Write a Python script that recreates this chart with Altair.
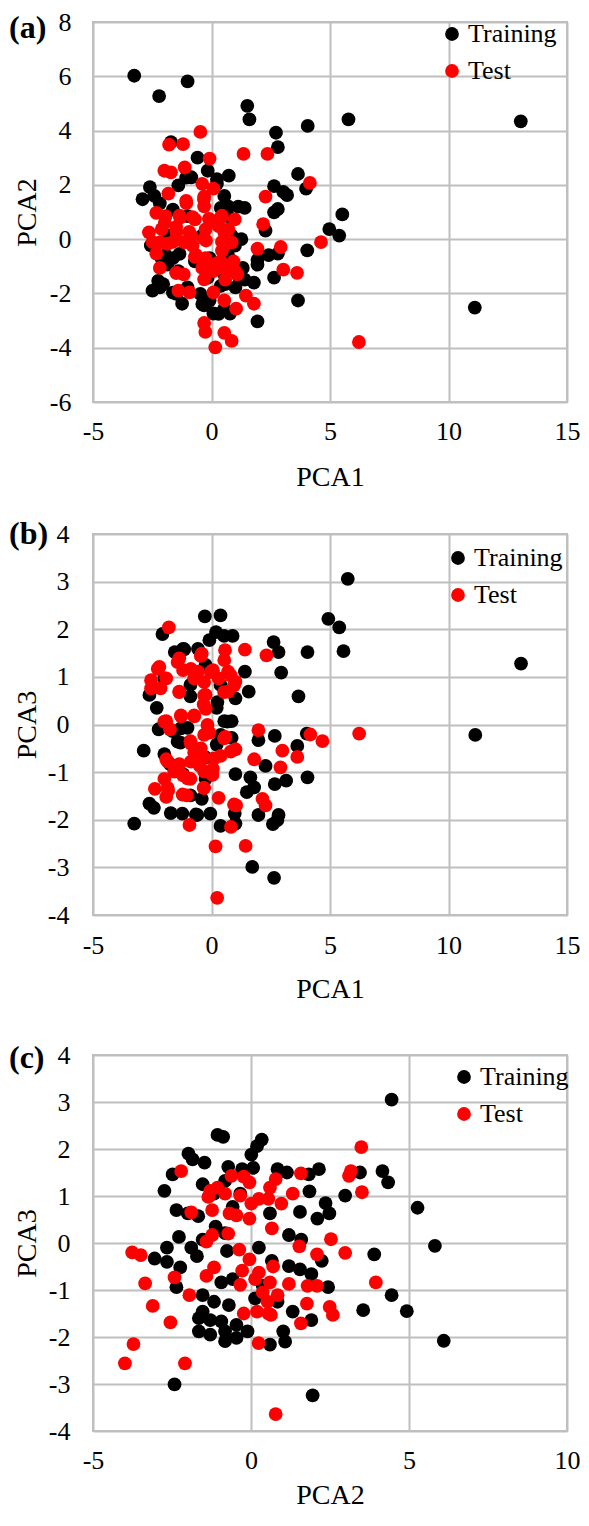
import altair as alt
import pandas as pd

FONT = "Liberation Serif"
SERIES = ["Training", "Test"]
COLORS = ["#000000", "#ff0000"]

# ---------------- Panel (a): PCA1 vs PCA2 ----------------
a_train_x = [-3.26, -1.01, -2.21, 1.51, 1.60, 5.78, 4.06, 13.05, 2.72, 2.80,
             -1.71, -0.59, -0.16, 0.73, 3.65, -0.85, -2.60, -2.91, -2.41, -1.40,
             0.23, 2.64, 3.03, 3.19, 3.99, 0.54, 1.40, 2.80, 2.64, 0.70,
             5.52, 4.97, 5.39, 2.28, 4.04, 2.80, 2.41, 1.94, 1.94, 2.64,
             1.79, 3.65, 11.11, 1.94, -1.24, -0.31, 0.08, 0.78, 0.54, -2.49,
             -2.18, -2.56, -1.63, -1.86, -2.25, -1.40, -1.01, -0.70, 1.32, 1.17,
             1.01, 0.39, -0.16, 0.85, 1.01, 0.23, -0.39, -1.01, -1.63, -1.79,
             -1.94, -0.08, 0.70, 0.54, -0.47, -0.08, -1.48, 0.39, 0.70,
             0.99, -2.04, -0.39, 0.30, -2.11, 0.58,
             0.23, 1.13, 1.26, 0.99, -1.07, -2.18, -1.63, -1.35, 1.40]
a_train_y = [6.02, 5.81, 5.27, 4.91, 4.41, 4.41, 4.17, 4.34, 3.92, 3.39,
             3.57, 3.00, 2.52, 2.34, 2.40, 2.28, 1.92, 1.47, 1.59, 1.98,
             2.04, 1.95, 1.74, 1.62, 1.86, 1.59, 1.15, 1.11, 0.99, 1.21,
             0.91, 0.37, 0.13, 0.31, -0.41, -0.53, -0.59, -0.76, -0.94, -1.42,
             -1.60, -2.26, -2.52, -3.03, -2.38, -2.44, -2.74, -2.74, -2.56, -1.90,
             -1.78, -0.23, -0.70, -0.94, -1.54, -1.18, -1.78, -0.82, -1.06, -1.42,
             -1.78, -1.72, -1.42, 0.13, -0.11, 0.61, 0.13, 0.85, 1.09, 0.13,
             -0.59, -0.70, -0.59, -1.30, -2.02, -2.26, -2.02, 1.15, 0.85,
             -0.04, -1.66, -2.39, -2.75, -0.70, -1.66,
             2.21, 1.20, 0.00, -0.24, 2.27, 1.32, -1.97, -0.54, -1.49]
a_test_x = [-0.47, -1.79, -1.20, 1.35, 2.36, -0.08, -1.99, -1.71, -1.13, 4.15,
            -0.39, 0.08, -1.82, -0.31, 2.28, -1.06, -0.31, -2.33, -1.94, -1.32,
            -0.70, -0.08, 0.39, 0.98, 2.18, -2.64, -2.10, -1.48, -0.85, -0.23,
            0.54, -2.49, -1.86, -1.17, 0.54, -2.33, 1.94, 2.92, 4.62, -0.70,
            -0.23, 0.39, 0.93, -2.18, -0.39, 0.08, 0.70, 1.09, -1.48, -1.17,
            3.03, 3.61, -0.31, -1.40, -0.93, 0.08, 0.54, 1.45, 1.79, 1.04,
            -0.31, -0.26, 0.54, 0.85, 0.16, 6.22,
            -1.35, -0.80, 0.44, -1.49, -0.94, 0.44, -1.63, -1.07, -0.66, -0.25,
            0.23, -1.49, 0.30, 0.99, -0.32, -1.07, -0.11, -0.32,
            -1.97, -0.25, 0.30, 0.71, -2.18, -0.80, 0.85, 0.58, 0.44]
a_test_y = [3.95, 3.48, 3.50, 3.14, 3.14, 2.97, 2.52, 2.46, 2.64, 2.07,
            2.04, 1.86, 1.68, 1.57, 1.57, 1.33, 1.21, 0.97, 0.85, 0.79,
            0.73, 0.73, 0.79, 0.73, 0.55, 0.25, 0.37, 0.25, 0.13, -0.05,
            0.25, -0.11, -0.17, -0.11, -0.23, -0.53, -0.35, -0.29, -0.11, -0.65,
            -0.82, -0.82, -0.82, -1.06, -1.06, -1.18, -1.12, -1.30, -1.24, -1.30,
            -1.12, -1.24, -1.48, -1.90, -1.96, -1.96, -2.26, -2.08, -2.38, -2.56,
            -3.09, -3.42, -3.45, -3.75, -3.99, -3.79,
            0.87, 0.81, 0.87, 0.45, 0.27, -0.10, -0.10, -0.10, -0.58, -0.70,
            -0.88, -1.24, -1.06, -1.18, 1.47, 1.41, 0.75, 0.02,
            0.60, 0.36, 0.48, 0.36, -0.12, -0.24, -0.12, -1.49, -0.42]

# ---------------- Panel (b): PCA1 vs PCA3 ----------------
b_train_x = [5.75, 4.93, 5.39, 5.57, 13.06, 11.13, -0.28, 0.38, -2.07, 0.19,
             0.89, -0.09, 2.62, 2.83, 4.05, -1.55, -1.20, -0.57, 2.94, 1.41,
             1.57, 3.67, -2.62, -2.31, 0.22, 0.54, 0.85, -0.89, -2.23, -1.01,
             -1.64, -2.86, -1.99, -1.31, 0.22, 0.85, 1.98, 2.67, 3.62, 4.02,
             2.28, 1.64, 1.80, 1.49, 2.67, 3.15, 4.05, -1.20, -0.25, 1.01,
             -2.62, -2.43, -1.72, -1.23, -0.60, -0.05, -0.41, -0.89, -3.26, 0.38,
             1.01, 0.98, 1.98, 2.83, 2.78, 2.59, 1.72, 2.64, -1.75, -0.25,
             -0.89, -1.99, -0.25, 0.38, 1.01,
             -1.15, 0.53, 0.25, 0.67, -1.29, -1.43, 0.39, -0.66]
b_train_y = [3.06, 2.22, 2.04, 1.54, 1.28, -0.22, 2.27, 2.29, 1.90, 1.94,
             1.86, 1.77, 1.73, 1.52, 1.52, 1.52, 1.59, 1.59, 1.09, 1.11,
             0.69, 0.59, 0.62, 0.35, 0.35, 0.07, 0.07, 0.59, -0.10, -0.07,
             -0.14, -0.55, -0.62, -0.38, -0.42, -0.28, -0.33, -0.24, -0.45, -0.19,
             -0.87, -1.11, -1.32, -1.42, -1.25, -1.18, -1.11, -1.04, -1.14, -1.04,
             -1.66, -1.75, -1.86, -1.87, -1.90, -1.87, -1.56, -1.49, -2.08, -2.13,
             -2.08, -1.87, -1.90, -1.90, -2.01, -2.09, -2.99, -3.22, -0.83, -0.69,
             0.83, 0.97, 1.25, 0.83, 0.55,
             1.58, 1.86, 0.47, 0.06, -0.08, -0.36, -0.22, -1.89]
b_test_x = [-1.80, 1.41, 2.32, -0.41, 0.57, 0.54, -1.36, -2.20, -1.20, -0.57,
            0.06, 0.70, -2.55, -1.91, -0.73, 0.30, 1.01, -2.55, -2.15, -1.36,
            0.70, -0.25, -0.33, -1.28, -0.73, -1.91, -1.75, -0.09, 1.98, 4.17,
            4.68, 6.23, 0.58, -0.89, 1.01, 2.99, -0.73, -0.33, 0.38, 1.80,
            3.62, -1.91, -1.36, -0.49, 0.06, 2.91, -1.20, -0.89, -1.99, -2.39,
            -1.83, -1.91, -1.04, -0.33, 0.30, 2.15, 2.28, 1.04, -0.93, 0.82,
            0.17, 1.44, 0.24,
            -2.27, -1.43, -0.87, -0.45, -0.03, 0.81, 0.95, 0.53, -0.31, -0.24,
            -0.73, -1.29, -1.99, -0.17, -0.31, 0.53, -0.87, -0.45, 0.11, 0.81,
            -0.87, -1.85, -1.57, -1.01, -0.31, 0.04, -1.85, -1.22, -0.31, 0.95,
            -0.31, -1.36]
b_test_y = [2.04, 1.57, 1.45, 1.49, 1.56, 1.35, 1.39, 1.21, 1.14, 1.11,
            1.14, 1.11, 0.93, 0.97, 0.97, 0.97, 0.90, 0.76, 0.76, 0.69,
            0.69, 0.62, 0.42, 0.17, 0.17, 0.07, -0.10, -0.17, -0.12, -0.21,
            -0.35, -0.19, -0.26, -0.35, -0.52, -0.55, -0.59, -0.69, -0.66, -0.73,
            -0.68, -0.73, -0.83, -0.87, -0.93, -0.90, -1.07, -1.14, -1.14, -1.35,
            -1.39, -1.52, -1.49, -1.33, -1.54, -1.56, -1.70, -1.70, -2.11, -2.15,
            -2.56, -2.55, -3.64,
            1.17, 1.31, 1.17, 1.44, 1.10, 1.03, 0.82, 0.68, 0.61, 0.33,
            0.19, 0.19, 0.06, -0.01, -0.22, -0.29, -0.40, -0.50, -0.71, -0.57,
            -0.78, -0.78, -0.99, -1.13, -0.99, -1.06, -1.33, -1.47, -1.33, -1.68,
            0.89, 0.68]

# ---------------- Panel (c): PCA2 vs PCA3 ----------------
c_train_x = [4.45, -1.06, -0.88, 0.34, 0.19, 0.01, -1.98, -1.85, -1.47, -2.48,
             -0.72, -0.28, 0.07, 0.84, 1.14, 1.83, 2.15, 3.45, 4.16, 4.34,
             -2.74, 1.85, 2.98, 5.27, -2.36, -2.00, -1.67, -0.58, 1.55, 2.36,
             2.48, 2.10, 0.60, -1.12, -0.82, -1.53, -2.28, 1.20, 1.59, 5.82,
             3.90, -1.89, -1.71, -2.66, -3.05, -2.66, -2.24, -0.76, 0.25, 0.66,
             1.20, 1.55, 1.91, 2.24, 2.44, -2.36, 4.45, 4.93, 3.55, 6.10,
             1.32, 1.91, -1.53, -1.17, -1.53, -1.65, -1.29, -0.70, -0.94, -0.46,
             -0.11, -1.65, -1.29, -0.82, -0.82, -0.46, 0.60, 1.02, 1.08, -2.42,
             1.95, -0.58, 0.37, 0.13, 0.84, -0.94, -1.17, -0.82, -1.53, -0.34]
c_train_y = [3.05, 2.30, 2.26, 2.20, 2.06, 1.88, 1.90, 1.78, 1.71, 1.46,
             1.62, 1.57, 1.60, 1.57, 1.50, 1.46, 1.57, 1.50, 1.53, 1.29,
             1.11, 1.10, 1.01, 0.75, 0.70, 0.63, 0.57, 0.77, 0.66, 0.85,
             0.63, 0.52, 0.63, 0.35, 0.21, 0.07, 0.13, 0.17, 0.07, -0.06,
             -0.24, -0.10, -0.28, -0.10, -0.33, -0.40, -0.52, -0.17, -0.10, -0.38,
             -0.49, -0.56, -0.66, -0.38, -0.94, -0.94, -1.11, -1.45, -1.43, -2.08,
             -1.46, -1.64, -1.11, -1.25, -1.46, -1.60, -1.64, -1.32, -1.67, -1.74,
             -1.88, -1.88, -1.95, -1.88, -2.09, -2.02, -2.16, -1.88, -2.10, -3.01,
             -3.24, -0.77, -0.91, -1.18, -1.25, -0.84, 1.05, 1.32, 1.25, 1.05]
c_test_x = [3.49, -2.21, 3.16, 3.10, 3.51, 1.58, -0.62, -0.23, 0.78, -0.05,
            0.60, -1.06, -1.29, -0.82, -1.35, -0.34, 1.32, 0.25, 0.01, 0.55,
            0.96, -1.89, -1.23, -0.68, -0.46, -0.05, 0.66, -1.23, -1.41, -0.72,
            2.53, -3.76, -3.49, -0.37, 1.53, 2.09, 2.98, -0.05, 0.70, -1.17,
            -1.41, -0.28, 0.25, -2.42, -3.35, 3.95, -0.34, 0.13, 0.60, 1.20,
            1.79, 2.09, -1.95, 0.37, 0.84, 0.52, 1.77, -3.11, 2.49, 2.59,
            -0.23, 0.19, 0.55, 0.63, -2.55, 1.58, 0.24, -3.72, -3.99, -2.09,
            0.78]
c_test_y = [2.04, 1.53, 1.53, 1.43, 1.08, 1.48, 1.43, 1.41, 1.36, 1.29,
            1.18, 1.18, 1.11, 1.05, 0.98, 1.01, 1.05, 0.94, 0.84, 0.94,
            0.84, 0.65, 0.70, 0.63, 0.59, 0.52, 0.31, 0.17, 0.03, 0.20,
            0.08, -0.20, -0.26, -0.14, -0.07, -0.24, -0.21, -0.35, -0.50, -0.52,
            -0.70, -0.59, -0.63, -0.73, -0.86, -0.84, -0.89, -0.77, -0.84, -0.87,
            -0.91, -0.91, -1.11, -1.05, -1.11, -1.25, -1.29, -1.34, -1.36, -1.53,
            -1.50, -1.46, -1.50, -1.53, -1.69, -1.71, -2.13, -2.15, -2.56, -2.56,
            -3.64]

X_TICKS_AB = [-5, 0, 5, 10, 15]
X_TICKS_C = [-5, 0, 5, 10]
Y_TICKS_A = [-6, -4, -2, 0, 2, 4, 6, 8]
Y_TICKS_BC = [-4, -3, -2, -1, 0, 1, 2, 3, 4]

PLOT_LEFT = 84  # y-axis extent to the left of every plot area


def make_df(trx, tr_y, tex, tey):
    return pd.DataFrame({
        "x": trx + tex,
        "y": tr_y + tey,
        "set": ["Training"] * len(trx) + ["Test"] * len(tex),
    })


def panel(df, tag, xdom, xvals, ydom, yvals, xtitle, ytitle, w, h,
          ylab_pad, ytitle_pad, xlab_pad, xtitle_pad, leg_x, leg_y, tag_y):
    pts = alt.Chart(df).mark_circle(size=190, opacity=1).encode(
        x=alt.X("x:Q",
                scale=alt.Scale(domain=xdom, nice=False, zero=False),
                axis=alt.Axis(values=xvals, title=xtitle, labelFlush=False,
                              labelPadding=xlab_pad, titlePadding=xtitle_pad,
                              labelExpr="'' + datum.value")),
        y=alt.Y("y:Q",
                scale=alt.Scale(domain=ydom, nice=False, zero=False),
                axis=alt.Axis(values=yvals, title=ytitle, labelFlush=False,
                              labelPadding=ylab_pad, titlePadding=ytitle_pad,
                              labelExpr="'' + datum.value")),
        color=alt.Color("set:N",
                        scale=alt.Scale(domain=SERIES, range=COLORS),
                        legend=alt.Legend(title=None, orient="none",
                                          legendX=leg_x, legendY=leg_y,
                                          symbolType="circle", symbolSize=190,
                                          symbolStrokeWidth=0, symbolOpacity=1,
                                          labelFont=FONT, labelFontSize=26,
                                          labelColor="black", labelOffset=3,
                                          rowPadding=11, padding=0)),
    )
    tag_df = pd.DataFrame({"t": [tag]})
    lab = alt.Chart(tag_df).mark_text(
        font=FONT, fontSize=32, fontWeight="bold", align="left",
        baseline="middle", color="black"
    ).encode(x=alt.value(-PLOT_LEFT), y=alt.value(tag_y), text="t:N")
    return alt.layer(pts, lab).properties(width=w, height=h)


pa = panel(make_df(a_train_x, a_train_y, a_test_x, a_test_y), "(a)",
           [-5, 15], X_TICKS_AB, [-6, 8], Y_TICKS_A, "PCA1", "PCA2",
           474, 380, 22, 8.3, 16, 19, 346, -1, 6)
pb = panel(make_df(b_train_x, b_train_y, b_test_x, b_test_y), "(b)",
           [-5, 15], X_TICKS_AB, [-4, 4], Y_TICKS_BC, "PCA1", "PCA3",
           474, 381, 24, 6.3, 17, 17, 352, 11, 0)
pc = panel(make_df(c_train_x, c_train_y, c_test_x, c_test_y), "(c)",
           [-5, 10], X_TICKS_C, [-4, 4], Y_TICKS_BC, "PCA2", "PCA3",
           474, 376, 23, 7.3, 16, 8, 358, 9, 2.7)

top = alt.vconcat(pa, pb, spacing=25).resolve_scale(
    x="independent", y="independent", color="independent"
)
chart = alt.vconcat(top, pc, spacing=36).resolve_scale(
    x="independent", y="independent", color="independent"
).properties(
    padding=0
).configure(
    background="white"
).configure_view(
    stroke="#bfbfbf", strokeWidth=2
).configure_axis(
    grid=True, gridColor="#bfbfbf", gridWidth=2, gridOpacity=1,
    domain=False, ticks=False,
    labelFont=FONT, labelFontSize=26, labelColor="black",
    titleFont=FONT, titleFontSize=28, titleFontWeight="normal", titleColor="black",
)

chart.save("out.html", embed_options={"renderer": "svg", "actions": False})
